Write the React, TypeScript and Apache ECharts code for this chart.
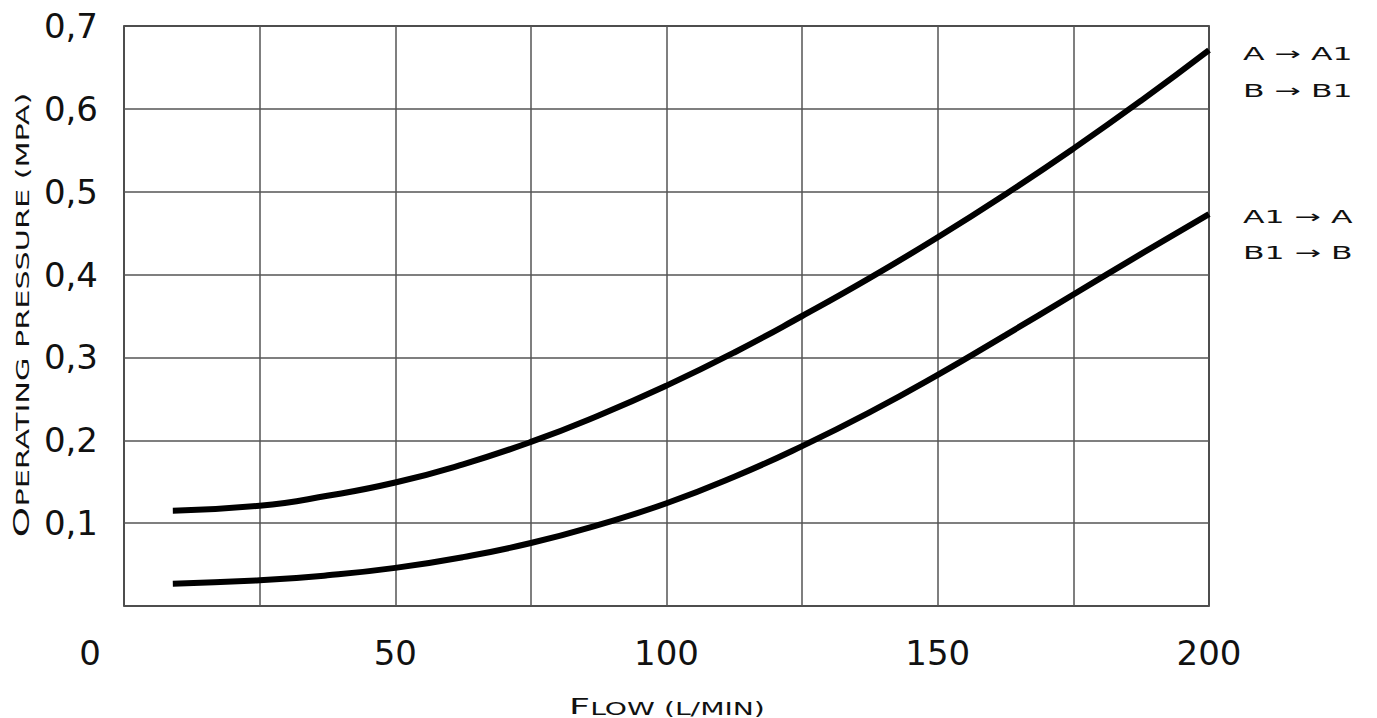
import React, { useEffect, useRef } from "react";
import * as echarts from "echarts";

const flow = [9, 25, 37.5, 50, 62.5, 75, 87.5, 100, 112.5, 125, 137.5, 150, 162.5, 175, 187.5, 200];
const pressureForward = [0.115, 0.121, 0.133, 0.149, 0.171, 0.198, 0.23, 0.266, 0.306, 0.35, 0.396, 0.445, 0.497, 0.552, 0.61, 0.671];
const pressureReverse = [0.027, 0.031, 0.037, 0.046, 0.059, 0.076, 0.098, 0.124, 0.156, 0.193, 0.234, 0.279, 0.327, 0.376, 0.425, 0.473];
const forwardLabels = ["A → A1", "B → B1"];
const reverseLabels = ["A1 → A", "B1 → B"];
const xTitle = ["F", "LOW (L/MIN)"];
const yTitle = ["O", "PERATING PRESSURE (MPA)"];

export default function App() {
  const ref = useRef<HTMLDivElement>(null);
  useEffect(() => {
    if (!ref.current) return;
    const chart = echarts.init(ref.current, null, { renderer: "svg" });
    const titleFont = "DejaVu Sans";
    const numFont = "DejaVu Sans";
    const legendText = (text: string, y: number) => ({
      type: "text",
      x: 1243,
      y,
      scaleX: 1.75,
      style: {
        text,
        fontFamily: titleFont,
        fontSize: 18,
        fill: "#111",
        align: "left",
        verticalAlign: "middle",
      },
    });
    const richTitle = {
      b: { fontFamily: titleFont, fontSize: 22, fill: "#111", verticalAlign: "bottom" },
      s: { fontFamily: titleFont, fontSize: 17, fill: "#111", verticalAlign: "bottom" },
    };
    chart.setOption({
      animation: false,
      backgroundColor: "#fff",
      grid: {
        left: 124,
        right: 168,
        top: 26,
        bottom: 112,
        show: true,
        borderColor: "#000",
        borderWidth: 1.5,
        containLabel: false,
      },
      xAxis: {
        type: "value",
        min: 0,
        max: 200,
        interval: 25,
        axisLine: { show: false },
        axisTick: { show: false },
        splitLine: { show: true, lineStyle: { color: "#555", width: 1.5 } },
        axisLabel: {
          showMinLabel: true,
          showMaxLabel: true,
          margin: 30,
          fontFamily: numFont,
          fontSize: 34,
          color: "#111",
          formatter: (v: number) => (v === 0 ? "{z|0}" : v % 50 === 0 ? String(v) : ""),
          rich: {
            z: { fontFamily: numFont, fontSize: 34, color: "#111", padding: [0, 68, 0, 0] },
          },
        },
      },
      yAxis: {
        type: "value",
        min: 0,
        max: 0.7,
        interval: 0.1,
        axisLine: { show: false },
        axisTick: { show: false },
        splitLine: { show: true, lineStyle: { color: "#555", width: 1.5 } },
        axisLabel: {
          showMaxLabel: true,
          margin: 26,
          fontFamily: numFont,
          fontSize: 34,
          color: "#111",
          formatter: (v: number) => (v === 0 ? "" : v.toFixed(1).replace(".", ",")),
        },
      },
      series: [
        {
          type: "line",
          data: flow.map((f, i) => [f, pressureForward[i]]),
          smooth: 0.5,
          showSymbol: false,
          lineStyle: { color: "#000", width: 6, cap: "butt" },
        },
        {
          type: "line",
          data: flow.map((f, i) => [f, pressureReverse[i]]),
          smooth: 0.5,
          showSymbol: false,
          lineStyle: { color: "#000", width: 6, cap: "butt" },
        },
      ],
      graphic: [
        {
          type: "text",
          x: 667,
          y: 706,
          scaleX: 1.66,
          style: {
            text: `{b|${xTitle[0]}}{s|${xTitle[1]}}`,
            align: "center",
            verticalAlign: "middle",
            fill: "#111",
            rich: richTitle,
          },
        },
        {
          type: "text",
          x: 21,
          y: 315,
          rotation: Math.PI / 2,
          scaleX: 1.78,
          style: {
            text: `{b|${yTitle[0]}}{s|${yTitle[1]}}`,
            align: "center",
            verticalAlign: "middle",
            fill: "#111",
            rich: richTitle,
          },
        },
        legendText(forwardLabels[0], 54),
        legendText(forwardLabels[1], 91),
        legendText(reverseLabels[0], 217),
        legendText(reverseLabels[1], 253),
      ],
    });
    return () => chart.dispose();
  }, []);
  return (
    <div
      ref={ref}
      style={{ position: "fixed", left: 0, top: 0, width: 1377, height: 718, background: "#fff" }}
    />
  );
}
